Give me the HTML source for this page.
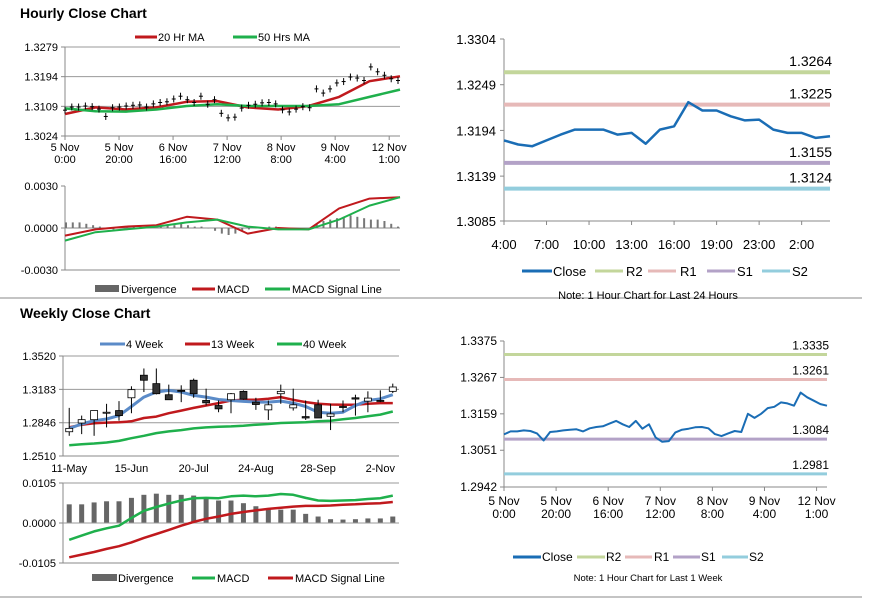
<!DOCTYPE html>
<html><head><meta charset="utf-8"><style>
html,body{margin:0;padding:0;background:#fff;}
svg{display:block;font-family:"Liberation Sans",Arial,sans-serif;}
.t{font-size:11px;fill:#000;}
.n{font-family:"Liberation Sans Narrow","Liberation Sans",sans-serif;}
</style></head><body>
<svg id="s" width="873" height="601" viewBox="0 0 873 601">
<text x="20" y="18" font-size="14" font-weight="bold">Hourly Close Chart</text>
<text x="20" y="318" font-size="14" font-weight="bold">Weekly Close Chart</text>
<line x1="0" y1="298" x2="862" y2="298" stroke="#888"/>
<line x1="0" y1="597" x2="862" y2="597" stroke="#888"/>

<g>
<line x1="135" y1="37" x2="157" y2="37" stroke="#c0191d" stroke-width="3"/><text class="t" x="158" y="41">20 Hr MA</text>
<line x1="233" y1="37" x2="257" y2="37" stroke="#1fb04c" stroke-width="3"/><text class="t" x="258" y="41">50 Hrs MA</text></g>
<g>
<rect x="95" y="285" width="24" height="7" fill="#666"/><text class="t" x="121" y="293">Divergence</text>
<line x1="192" y1="289" x2="215" y2="289" stroke="#c0191d" stroke-width="3"/><text class="t" x="217" y="293">MACD</text>
<line x1="265" y1="289" x2="290" y2="289" stroke="#1fb04c" stroke-width="3"/><text class="t" x="292" y="293">MACD Signal Line</text></g>
<g>
<line x1="100" y1="344" x2="125" y2="344" stroke="#5b8bc8" stroke-width="3"/><text class="t" x="126" y="348">4 Week</text>
<line x1="185" y1="344" x2="210" y2="344" stroke="#c0191d" stroke-width="3"/><text class="t" x="211" y="348">13 Week</text>
<line x1="277" y1="344" x2="302" y2="344" stroke="#1fb04c" stroke-width="3"/><text class="t" x="303" y="348">40 Week</text></g>
<g>
<rect x="92" y="574" width="25" height="7" fill="#666"/><text class="t" x="118" y="582">Divergence</text>
<line x1="192" y1="578" x2="215" y2="578" stroke="#1fb04c" stroke-width="3"/><text class="t" x="217" y="582">MACD</text>
<line x1="268" y1="578" x2="293" y2="578" stroke="#c0191d" stroke-width="3"/><text class="t" x="295" y="582">MACD Signal Line</text></g>
<g font-size="13" class="n">
<line x1="522" y1="271" x2="552" y2="271" stroke="#1a6db5" stroke-width="3"/><text x="553" y="276">Close</text>
<line x1="595" y1="271" x2="623" y2="271" stroke="#c3d69b" stroke-width="3"/><text x="626" y="276">R2</text>
<line x1="648" y1="271" x2="676" y2="271" stroke="#e6b9b8" stroke-width="3"/><text x="680" y="276">R1</text>
<line x1="707" y1="271" x2="735" y2="271" stroke="#b3a2c7" stroke-width="3"/><text x="737" y="276">S1</text>
<line x1="762" y1="271" x2="790" y2="271" stroke="#93cddd" stroke-width="3"/><text x="792" y="276">S2</text>
<text x="648" y="299" font-size="11" text-anchor="middle">Note: 1 Hour Chart for Last 24 Hours</text></g>
<g font-size="12" class="n">
<line x1="513" y1="557" x2="541" y2="557" stroke="#1a6db5" stroke-width="3"/><text x="542" y="561">Close</text>
<line x1="577" y1="557" x2="605" y2="557" stroke="#c3d69b" stroke-width="3"/><text x="606" y="561">R2</text>
<line x1="625" y1="557" x2="652" y2="557" stroke="#e6b9b8" stroke-width="3"/><text x="654" y="561">R1</text>
<line x1="673" y1="557" x2="700" y2="557" stroke="#b3a2c7" stroke-width="3"/><text x="701" y="561">S1</text>
<line x1="722" y1="557" x2="748" y2="557" stroke="#93cddd" stroke-width="3"/><text x="749" y="561">S2</text>
<text x="648" y="581" font-size="9.5" text-anchor="middle">Note: 1 Hour Chart for  Last 1 Week</text></g>
</svg>
<script>
// ---- data ----
const hourlyClose=[1.3098,1.3107,1.3107,1.3110,1.3108,1.3101,1.3080,1.3105,1.3107,1.3110,1.3112,1.3113,1.3107,1.3116,1.3120,1.3122,1.3130,1.3138,1.3128,1.3120,1.3138,1.3115,1.3128,1.3089,1.3076,1.3078,1.3104,1.3112,1.3115,1.3119,1.3120,1.3116,1.3099,1.3093,1.3101,1.3108,1.3105,1.3159,1.3147,1.3159,1.3176,1.3180,1.3193,1.3190,1.3183,1.3222,1.3208,1.3198,1.3188,1.3183];
const ma20=[1.3087,1.3106,1.3100,1.3106,1.3122,1.3124,1.3106,1.3100,1.3110,1.3136,1.3181,1.3195];
const ma50=[1.3103,1.3095,1.3094,1.3100,1.3110,1.3115,1.3110,1.3110,1.3110,1.3115,1.3136,1.3157];
const hMacd=[-0.00054,-0.0001,0.0001,0.0002,0.0008,0.0006,-0.0004,0.0,-0.0001,0.0014,0.0021,0.0022];
const hSignal=[-0.0009,-0.0003,-0.0001,0.0001,0.0004,0.0006,0.0001,-0.0001,-0.0001,0.0006,0.0016,0.0022];
const hDiv=[0.0004,0.0004,0.0004,0.0003,0.0002,0.0001,0,-0.0001,0,0.0001,0.0001,0.0001,0.0001,0.0001,0.0001,0.0002,0.0002,0.0003,0.0002,0.0001,0.0001,0,-0.0002,-0.0004,-0.0005,-0.0004,-0.0002,-0.0001,0,0,0.0001,0.0001,0,-0.0001,0,0,0,0.0003,0.0005,0.0006,0.0007,0.0008,0.0009,0.0008,0.0007,0.0006,0.0006,0.0005,0.0003,0.0001];
const hourTickLabels=[["5 Nov","0:00"],["5 Nov","20:00"],["6 Nov","16:00"],["7 Nov","12:00"],["8 Nov","8:00"],["9 Nov","4:00"],["12 Nov","1:00"]];
const hourTickHours=[0,20,40,60,80,100,120];
const hPriceTicks=[1.3279,1.3194,1.3109,1.3024];
const hMacdTicks=[0.0030,0.0000,-0.0030];

const dayClose=[1.3182,1.3177,1.3175,1.3182,1.3189,1.3195,1.3195,1.3195,1.3189,1.3191,1.3178,1.3195,1.3199,1.3228,1.3218,1.3218,1.3211,1.3206,1.3207,1.3195,1.3191,1.3191,1.3185,1.3187];
const dayTicks=["4:00","7:00","10:00","13:00","16:00","19:00","23:00","2:00"];
const dayYTicks=[1.3304,1.3249,1.3194,1.3139,1.3085];
const dayLevels=[1.3264,1.3225,1.3155,1.3124];
const weekLevels=[1.3335,1.3261,1.3084,1.2981];
const weekYTicks=[1.3375,1.3267,1.3159,1.3051,1.2942];

const wOpen=[1.2755,1.2843,1.2877,1.2949,1.2969,1.3098,1.3326,1.3241,1.3129,1.3173,1.3275,1.3071,1.3020,1.3078,1.3163,1.3054,1.2976,1.3139,1.2996,1.2908,1.3027,1.2911,1.3010,1.3098,1.3064,1.3071,1.3163];
const wClose=[1.2789,1.2877,1.2969,1.2952,1.2918,1.3180,1.3275,1.3139,1.3078,1.3170,1.3139,1.3047,1.2986,1.3139,1.3085,1.3030,1.3027,1.3163,1.3027,1.2894,1.2894,1.2935,1.3003,1.3085,1.3095,1.3068,1.3207];
const wHigh=[1.2996,1.2918,1.2969,1.3037,1.3064,1.3214,1.3394,1.3394,1.3231,1.3224,1.3292,1.3190,1.3071,1.3146,1.3173,1.3098,1.3071,1.3231,1.3190,1.3071,1.3078,1.3037,1.3071,1.3129,1.3163,1.3173,1.3241];
const wLow=[1.2714,1.2731,1.2714,1.2799,1.2867,1.2942,1.3156,1.3132,1.3078,1.3054,1.3098,1.3020,1.2952,1.2942,1.3078,1.2976,1.2874,1.3037,1.2969,1.2874,1.2894,1.2772,1.2952,1.2918,1.2952,1.3054,1.3146];
const w4=[1.2789,1.2833,1.2867,1.2884,1.2918,1.3010,1.3105,1.3156,1.3173,1.3156,1.3122,1.3105,1.3081,1.3071,1.3061,1.3054,1.3054,1.3064,1.3044,1.3010,1.2952,1.2942,1.2952,1.3020,1.3071,1.3088,1.3129];
const w13=[1.2799,1.2826,1.2840,1.2847,1.2850,1.2860,1.2894,1.2908,1.2942,1.2969,1.2996,1.3020,1.3044,1.3071,1.3078,1.3078,1.3088,1.3105,1.3078,1.3054,1.3037,1.3030,1.3027,1.3027,1.3037,1.3044,1.3044];
const w40=[1.2619,1.2629,1.2636,1.2646,1.2663,1.2690,1.2714,1.2741,1.2758,1.2772,1.2789,1.2799,1.2806,1.2809,1.2816,1.2826,1.2833,1.2843,1.2847,1.2850,1.2860,1.2867,1.2881,1.2894,1.2911,1.2928,1.2959];
const wDiv=[0.0049,0.0049,0.0054,0.0057,0.0057,0.0066,0.0074,0.0077,0.0074,0.0074,0.0072,0.0066,0.0059,0.0059,0.0052,0.0044,0.0039,0.0035,0.0035,0.0024,0.0017,0.0010,0.0009,0.0010,0.0012,0.0012,0.0017];
const wMacd=[-0.0044,-0.0033,-0.0022,-0.0014,-0.0007,0.0013,0.0032,0.0042,0.0051,0.0059,0.0065,0.0066,0.0065,0.0070,0.0072,0.0070,0.0072,0.0076,0.0074,0.0066,0.0059,0.0058,0.0059,0.0060,0.0063,0.0065,0.0072];
const wSignal=[-0.0090,-0.0083,-0.0076,-0.0068,-0.0061,-0.0051,-0.0039,-0.0029,-0.0018,-0.0007,0.0003,0.0011,0.0017,0.0024,0.0029,0.0033,0.0037,0.0040,0.0043,0.0045,0.0045,0.0046,0.0048,0.0049,0.0051,0.0052,0.0055];
const weekTickLabels=["11-May","15-Jun","20-Jul","24-Aug","28-Sep","2-Nov"];
const weekTickIdx=[0,5,10,15,20,25];
const wPriceTicks=[1.3520,1.3183,1.2846,1.2510];
const wMacdTicks=[0.0105,0.0000,-0.0105];
const TOTAL_HOURS=124;

// ---- helpers ----
const S=document.getElementById('s'),NS='http://www.w3.org/2000/svg';
function mk(tag,at,name){const e=document.createElementNS(NS,tag);for(const k in at)e.setAttribute(k,at[k]);


S.appendChild(e);return e;}
function lin(v0,v1,p0,p1){return v=>p0+(v-v0)/(v1-v0)*(p1-p0);}
function txt(x,y,s,anchor,size,name,cls){const e=mk('text',{x:x,y:y,'text-anchor':anchor,'font-size':size,class:cls||''},name);e.textContent=s;return e;}
function poly(xs,ys,color,w,name){mk('polyline',{points:xs.map((x,i)=>x.toFixed(1)+','+ys[i].toFixed(1)).join(' '),fill:'none',stroke:color,'stroke-width':w,'stroke-linejoin':'round'},name);}
function frame(x0,x1,yT,yB,ticks,ys,fmt,grid,name,lx,size,cls){
 ticks.forEach(t=>{const y=ys(t);
  if(grid)mk('line',{x1:x0,y1:y,x2:x1,y2:y,stroke:'#999','stroke-width':1},name+'-gridline');
  mk('line',{x1:x0-4,y1:y,x2:x0,y2:y,stroke:'#888'},name+'-ytick');
  txt(lx,y+4,t.toFixed(4),'end',size,name+'-ytick-label',cls);});
 mk('line',{x1:x0,y1:yT,x2:x0,y2:yB,stroke:'#888'},name+'-y-axis');
}

// ---- hourly price (top-left) ----
(function(){const x0=65,x1=400,y=lin(1.3024,1.3279,136,47);
 frame(x0,x1,47,136,hPriceTicks,y,null,true,'hourly-price',58,11);
 mk('line',{x1:x0,y1:136,x2:x1,y2:136,stroke:'#888'},'hourly-price-x-axis');
 const hx=lin(0,TOTAL_HOURS,x0,x1);
 hourTickHours.forEach((h,i)=>{const x=hx(h);mk('line',{x1:x,y1:136,x2:x,y2:140,stroke:'#888'},'hourly-price-xtick');
  txt(x,151,hourTickLabels[i][0],'middle',11,'hourly-x-label');txt(x,163,hourTickLabels[i][1],'middle',11,'hourly-x-label');});
 const cx=lin(0,hourlyClose.length-1,x0,x1-2);
 const mx=lin(0,ma20.length-1,x0,x1);
 poly(ma20.map((v,i)=>mx(i)),ma20.map(y),'#c0191d',2.5,'ma20-line');
 poly(ma50.map((v,i)=>mx(i)),ma50.map(y),'#1fb04c',2.5,'ma50-line');
 hourlyClose.forEach((v,i)=>{const x=cx(i);mk('line',{x1:x,y1:y(v)-3.5,x2:x,y2:y(v)+3.5,stroke:'#000','stroke-width':1},'hourly-candle');
  mk('line',{x1:x-2,y1:y(v),x2:x+2,y2:y(v),stroke:'#000','stroke-width':1},'hourly-candle-tick');});
})();
// ---- hourly macd ----
(function(){const x0=65,x1=400,y=lin(-0.003,0.003,270,186);
 frame(x0,x1,186,270,hMacdTicks,y,null,false,'hourly-macd',58,11);
 mk('line',{x1:x0,y1:270,x2:x1,y2:270,stroke:'#888'},'hourly-macd-x-axis');
 mk('line',{x1:x0,y1:y(0),x2:x1,y2:y(0),stroke:'#888'},'hourly-macd-zero');
 const dx=lin(0,hDiv.length-1,x0+1,x1-2);
 hDiv.forEach((v,i)=>{const a=y(v),b=y(0);mk('rect',{x:dx(i)-1,y:Math.min(a,b),width:2,height:Math.max(Math.abs(a-b),0.5),fill:'#777'},'hourly-divergence-bar');});
 const mx=lin(0,hMacd.length-1,x0,x1);
 poly(hMacd.map((v,i)=>mx(i)),hMacd.map(y),'#c0191d',2,'hourly-macd-line');
 poly(hSignal.map((v,i)=>mx(i)),hSignal.map(y),'#1fb04c',2,'hourly-signal-line');
})();
// ---- weekly price ----
(function(){const x0=63,x1=399,y=lin(1.2510,1.3520,456,356),bw=(x1-x0)/wOpen.length;
 frame(x0,x1,356,456,wPriceTicks,y,null,true,'weekly-price',56,11);
 mk('line',{x1:x0,y1:456,x2:x1,y2:456,stroke:'#888'},'weekly-price-x-axis');
 const wx=i=>x0+(i+0.5)*bw;
 weekTickIdx.forEach((k,i)=>{txt(wx(k),472,weekTickLabels[i],'middle',11,'weekly-x-label');});
 poly(w40.map((v,i)=>wx(i)),w40.map(y),'#1fb04c',2.5,'week40-line');
 poly(w13.map((v,i)=>wx(i)),w13.map(y),'#c0191d',2.5,'week13-line');
 poly(w4.map((v,i)=>wx(i)),w4.map(y),'#5b8bc8',3,'week4-line');
 wOpen.forEach((o,i)=>{const c=wClose[i],x=wx(i);
  mk('line',{x1:x,y1:y(wHigh[i]),x2:x,y2:y(wLow[i]),stroke:'#000'},'weekly-candle-wick');
  const t=y(Math.max(o,c)),b=y(Math.min(o,c));
  mk('rect',{x:x-3.5,y:t,width:7,height:Math.max(b-t,1),fill:c>=o?'#fff':'#333',stroke:'#000','stroke-width':0.8},'weekly-candle-body');});
})();
// ---- weekly macd ----
(function(){const x0=63,x1=399,y=lin(-0.0105,0.0105,563,483),bw=(x1-x0)/wDiv.length;
 frame(x0,x1,483,563,wMacdTicks,y,null,false,'weekly-macd',56,11);
 mk('line',{x1:x0,y1:563,x2:x1,y2:563,stroke:'#888'},'weekly-macd-x-axis');
 mk('line',{x1:x0,y1:483,x2:x1,y2:483,stroke:'#999'},'weekly-macd-top');
 const wx=i=>x0+(i+0.5)*bw;
 wDiv.forEach((v,i)=>{const a=y(v),b=y(0);mk('rect',{x:wx(i)-2.5,y:Math.min(a,b),width:5,height:Math.abs(a-b),fill:'#666'},'weekly-divergence-bar');});
 mk('line',{x1:x0,y1:y(0),x2:x1,y2:y(0),stroke:'#999'},'weekly-macd-zero');
 poly(wMacd.map((v,i)=>wx(i)),wMacd.map(y),'#1fb04c',2.5,'weekly-macd-line');
 poly(wSignal.map((v,i)=>wx(i)),wSignal.map(y),'#c0191d',2.5,'weekly-signal-line');
})();
// ---- levels charts ----
const lvlColors=['#c3d69b','#e6b9b8','#b3a2c7','#93cddd'];
(function(){const x0=504,x1=830,y=lin(1.3085,1.3304,221,39);
 dayYTicks.forEach(t=>{mk('line',{x1:x0-4,y1:y(t),x2:x0,y2:y(t),stroke:'#888'},'daily-ytick');txt(496,y(t)+5,t.toFixed(4),'end',13,'daily-ytick-label','n');});
 mk('line',{x1:x0,y1:39,x2:x0,y2:221,stroke:'#888'},'daily-y-axis');
 mk('line',{x1:x0,y1:221,x2:x1,y2:221,stroke:'#888'},'daily-x-axis');
 const cx=lin(0,dayClose.length-1,x0,x1);
 dayTicks.forEach((s,i)=>{const x=cx(i*3);mk('line',{x1:x,y1:221,x2:x,y2:225,stroke:'#888'},'daily-xtick');txt(x,249,s,'middle',13,'daily-x-label','n');});
 dayLevels.forEach((v,i)=>{mk('line',{x1:x0,y1:y(v),x2:x1,y2:y(v),stroke:lvlColors[i],'stroke-width':4},'daily-level-line');txt(x1+2,y(v)-6,v.toFixed(4),'end',14,'daily-level-label','n');});
 poly(dayClose.map((v,i)=>cx(i)),dayClose.map(y),'#1a6db5',2.5,'daily-close-line');
})();
(function(){const x0=504,x1=827,y=lin(1.2942,1.3375,487,341);
 weekYTicks.forEach(t=>{mk('line',{x1:x0-4,y1:y(t),x2:x0,y2:y(t),stroke:'#888'},'week-ytick');txt(497,y(t)+4,t.toFixed(4),'end',12,'week-ytick-label','n');});
 mk('line',{x1:x0,y1:341,x2:x0,y2:487,stroke:'#888'},'week-y-axis');
 mk('line',{x1:x0,y1:487,x2:x1,y2:487,stroke:'#888'},'week-x-axis');
 const hx=lin(0,TOTAL_HOURS,x0,x1);
 hourTickHours.forEach((h,i)=>{const x=hx(h);mk('line',{x1:x,y1:487,x2:x,y2:491,stroke:'#888'},'week-xtick');
  txt(x,505,hourTickLabels[i][0],'middle',12,'week-x-label','n');txt(x,518,hourTickLabels[i][1],'middle',12,'week-x-label','n');});
 weekLevels.forEach((v,i)=>{mk('line',{x1:x0,y1:y(v),x2:x1,y2:y(v),stroke:lvlColors[i],'stroke-width':3},'week-level-line');txt(x1+2,y(v)-5,v.toFixed(4),'end',12,'week-level-label','n');});
 const cx=lin(0,hourlyClose.length-1,x0,x1);
 poly(hourlyClose.map((v,i)=>cx(i)),hourlyClose.map(y),'#1a6db5',2,'week-close-line');
})();
</script>
</body></html>
